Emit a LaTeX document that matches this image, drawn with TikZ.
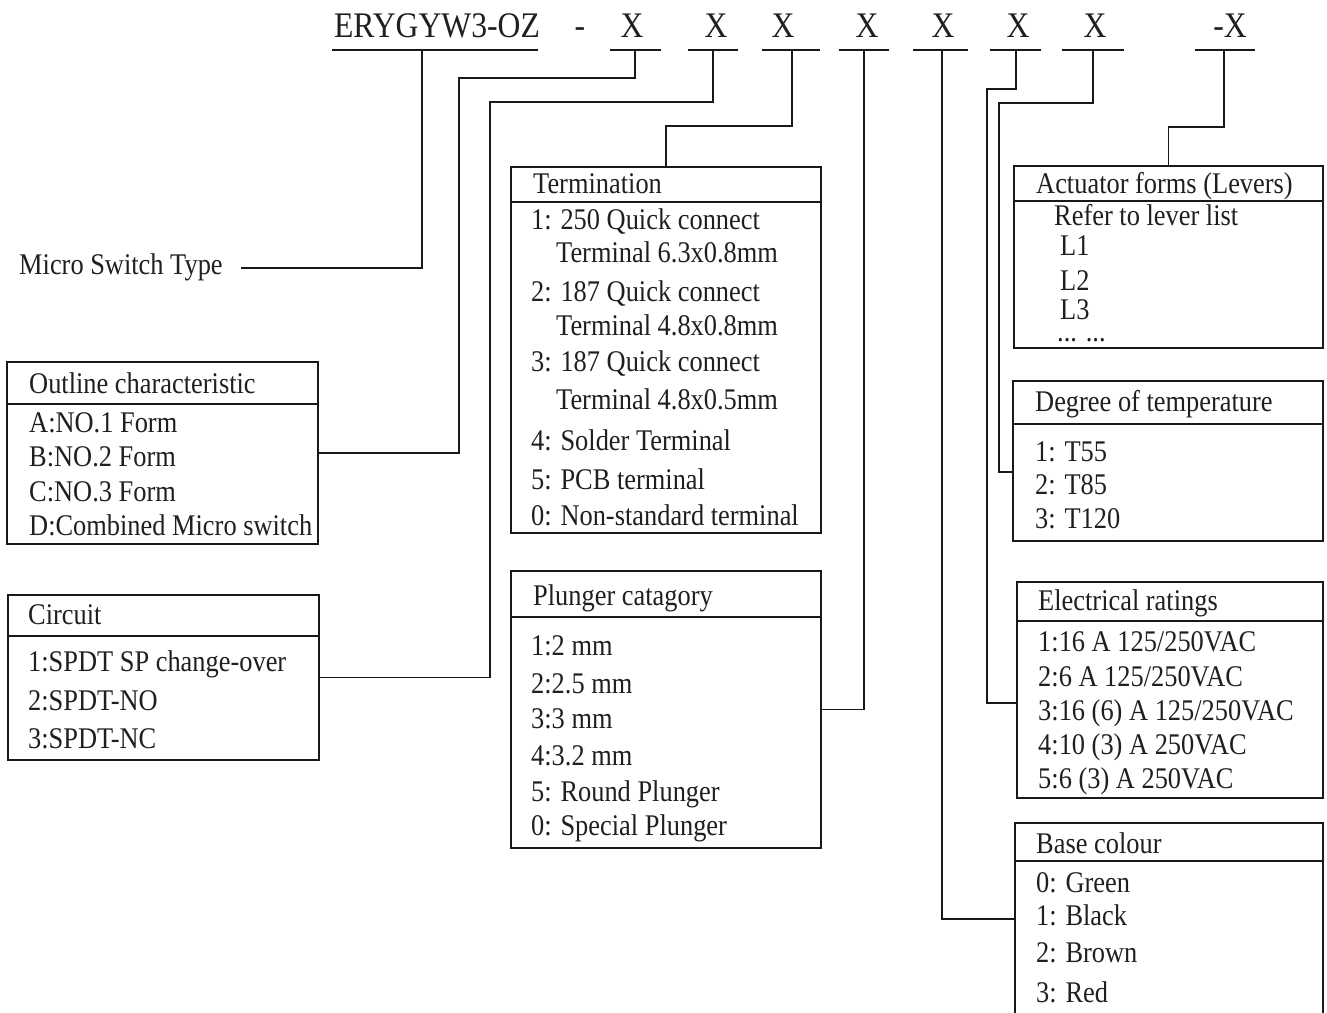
\documentclass[tikz,border=0pt]{standalone}
\usepackage{fontspec}
\setmainfont[FakeStretch=0.88]{Liberation Serif}
\tikzset{
  ln/.style={line width=1.6pt, color=black!90},
  box/.style={draw=black!90, line width=1.6pt, anchor=north west, inner sep=0pt, outer sep=0pt},
  txt/.style={anchor=base west, inner sep=0pt, text=black!88, font=\fontsize{30}{30}\selectfont},
  toptxt/.style={anchor=base, inner sep=0pt, text=black!88, font=\fontsize{36}{36}\selectfont},
}
\begin{document}
\begin{tikzpicture}[x=1pt, y=-1pt]
\useasboundingbox (0,0) rectangle (1327,1012);

% ---- code row ----
\node[toptxt] (code) at (437,37) {ERYGYW3-OZ};
\node[toptxt] (dash) at (580,37) {-};
\node[toptxt] (x1) at (632,37) {X};
\node[toptxt] (x2) at (716,37) {X};
\node[toptxt] (x3) at (783,37) {X};
\node[toptxt] (x4) at (867,37) {X};
\node[toptxt] (x5) at (943,37) {X};
\node[toptxt] (x6) at (1018,37) {X};
\node[toptxt] (x7) at (1095,37) {X};
\node[toptxt] (x8) at (1230,37) {-X};

\draw[ln] (332,50) -- (538,50);
\draw[ln] (610,50) -- (661,50);
\draw[ln] (688,50) -- (738,50);
\draw[ln] (762,50) -- (820,50);
\draw[ln] (839,50) -- (889,50);
\draw[ln] (913,50) -- (968,50);
\draw[ln] (990,50) -- (1041,50);
\draw[ln] (1062,50) -- (1124,50);
\draw[ln] (1195,50) -- (1255,50);

\coordinate (c0) at (422,50);
\coordinate (c1) at (635,50);
\coordinate (c2) at (713,50);
\coordinate (c3) at (792,50);
\coordinate (c4) at (864,50);
\coordinate (c5) at (942,50);
\coordinate (c6) at (1016,50);
\coordinate (c7) at (1093,50);
\coordinate (c8) at (1224,50);

% ---- Micro switch type ----
\node[txt] (mst) at (19,274) {Micro Switch Type};
\coordinate (mstend) at (241,268);

% ---- Outline ----
\node[box, minimum width=311pt, minimum height=182pt] (outline) at (7,362) {};
\draw[ln] (outline.west |- 0,404) -- (outline.east |- 0,404);
\node[txt] (o0) at (29,393) {Outline characteristic};
\node[txt] (o1) at (29,432) {A:NO.1 Form};
\node[txt] (o2) at (29,466) {B:NO.2 Form};
\node[txt] (o3) at (29,501) {C:NO.3 Form};
\node[txt] (o4) at (29,535) {D:Combined Micro switch};

% ---- Circuit ----
\node[box, minimum width=311pt, minimum height=165pt] (circuit) at (8,595) {};
\draw[ln] (circuit.west |- 0,636) -- (circuit.east |- 0,636);
\node[txt] (ci0) at (28,624) {Circuit};
\node[txt] (ci1) at (28,671) {1:SPDT SP change-over};
\node[txt] (ci2) at (28,710) {2:SPDT-NO};
\node[txt] (ci3) at (28,748) {3:SPDT-NC};

% ---- Termination ----
\node[box, minimum width=310pt, minimum height=366pt] (term) at (511,167) {};
\draw[ln] (term.west |- 0,202) -- (term.east |- 0,202);
\node[txt] (t0) at (533,193) {Termination};
\node[txt] (t1) at (531,229) {1: 250 Quick connect};
\node[txt] (t1b) at (556,262) {Terminal 6.3x0.8mm};
\node[txt] (t2) at (531,301) {2: 187 Quick connect};
\node[txt] (t2b) at (556,335) {Terminal 4.8x0.8mm};
\node[txt] (t3) at (531,371) {3: 187 Quick connect};
\node[txt] (t3b) at (556,409) {Terminal 4.8x0.5mm};
\node[txt] (t4) at (531,450) {4: Solder Terminal};
\node[txt] (t5) at (531,489) {5: PCB terminal};
\node[txt] (t6) at (531,525) {0: Non-standard terminal};

% ---- Plunger ----
\node[box, minimum width=310pt, minimum height=277pt] (plunger) at (511,571) {};
\draw[ln] (plunger.west |- 0,617) -- (plunger.east |- 0,617);
\node[txt] (p0) at (533,605) {Plunger catagory};
\node[txt] (p1) at (531,655) {1:2 mm};
\node[txt] (p2) at (531,693) {2:2.5 mm};
\node[txt] (p3) at (531,728) {3:3 mm};
\node[txt] (p4) at (531,765) {4:3.2 mm};
\node[txt] (p5) at (531,801) {5: Round Plunger};
\node[txt] (p6) at (531,835) {0: Special Plunger};

% ---- Actuator ----
\node[box, minimum width=309pt, minimum height=182pt] (act) at (1014,166) {};
\draw[ln] (act.west |- 0,201) -- (act.east |- 0,201);
\node[txt] (a0) at (1036,193) {Actuator forms (Levers)};
\node[txt] (a1) at (1054,225) {Refer to lever list};
\node[txt] (a2) at (1060,255) {L1};
\node[txt] (a3) at (1060,290) {L2};
\node[txt] (a4) at (1060,319) {L3};
\node[txt, text height=4pt, text depth=0pt] (a5) at (1057,341) {... ...};

% ---- Degree ----
\node[box, minimum width=310pt, minimum height=160pt] (degree) at (1013,381) {};
\draw[ln] (degree.west |- 0,424) -- (degree.east |- 0,424);
\node[txt] (d0) at (1035,411) {Degree of temperature};
\node[txt] (d1) at (1035,461) {1: T55};
\node[txt] (d2) at (1035,494) {2: T85};
\node[txt] (d3) at (1035,528) {3: T120};

% ---- Electrical ----
\node[box, minimum width=306pt, minimum height=216pt] (elec) at (1017,582) {};
\draw[ln] (elec.west |- 0,621) -- (elec.east |- 0,621);
\node[txt] (e0) at (1038,610) {Electrical ratings};
\node[txt] (e1) at (1038,651) {1:16 A 125/250VAC};
\node[txt] (e2) at (1038,686) {2:6 A 125/250VAC};
\node[txt] (e3) at (1038,720) {3:16 (6) A 125/250VAC};
\node[txt] (e4) at (1038,754) {4:10 (3) A 250VAC};
\node[txt] (e5) at (1038,788) {5:6 (3) A 250VAC};

% ---- Base colour ----
\node[box, minimum width=308pt, minimum height=220pt] (base) at (1015,823) {};
\draw[ln] (base.west |- 0,861) -- (base.east |- 0,861);
\node[txt] (b0) at (1036,853) {Base colour};
\node[txt] (b1) at (1036,892) {0: Green};
\node[txt] (b2) at (1036,925) {1: Black};
\node[txt] (b3) at (1036,962) {2: Brown};
\node[txt] (b4) at (1036,1002) {3: Red};

% ---- connectors ----
\draw[ln] (c0) |- (mstend);
\draw[ln] (c1) |- (459,78) |- (outline.east);
\draw[ln] (c2) |- (490,102) |- (circuit.east);
\draw[ln] (c3) |- (term.north |- 0,126) -- (term.north);
\draw[ln] (c4) |- (plunger.east);
\draw[ln] (c5) |- (base.west |- 0,919);
\draw[ln] (c6) |- (987,89) |- (elec.west |- 0,703);
\draw[ln] (c7) |- (999,103) |- (degree.west |- 0,472);
\draw[ln] (c8) |- (act.north |- 0,127) -- (act.north);
\end{tikzpicture}
\end{document}
